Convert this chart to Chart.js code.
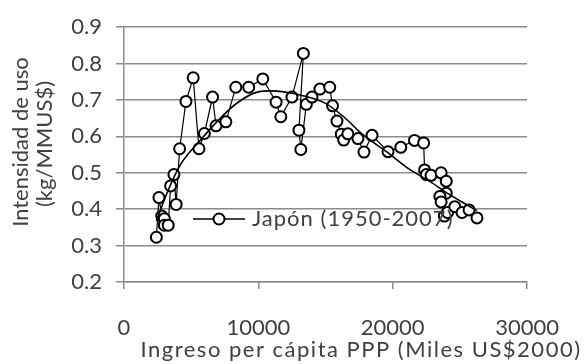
<!DOCTYPE html>
<html>
<head>
<meta charset="utf-8">
<script src="https://cdn.jsdelivr.net/npm/chart.js@4/dist/chart.umd.min.js"></script>
<style>
  html, body { margin: 0; padding: 0; background: #ffffff; }
  #wrap { width: 585px; height: 364px; }
</style>
</head>
<body>
<div id="wrap"><canvas id="c" width="585" height="364"></canvas></div>
<script>
// Japan: income per capita (PPP, US$2000) vs. intensity of use (kg/MMUS$), 1950-2007
const incomeJapan = [
  2410, 2600, 2810, 3005, 3005, 3290, 3470, 3715, 3880, 4140,
  4610, 5150, 5580, 5980, 6590, 6850, 7580, 8320, 9280, 10330,
  11320, 11670, 12500, 13350, 13020, 13160, 13570, 13990, 14580, 15310,
  15520, 15850, 16170, 16350, 16660, 17410, 17860, 18460, 19650, 20600,
  21620, 22300, 22370, 22500, 22850, 23600, 23980, 23980, 23510, 23600,
  23840, 24080, 24620, 25160, 25680, 26270
];
const intensityJapan = [
  0.323, 0.432, 0.381, 0.374, 0.356, 0.356, 0.464, 0.495, 0.413, 0.566,
  0.696, 0.761, 0.566, 0.608, 0.708, 0.629, 0.640, 0.735, 0.735, 0.758,
  0.694, 0.654, 0.708, 0.828, 0.617, 0.564, 0.688, 0.708, 0.730, 0.735,
  0.684, 0.642, 0.606, 0.590, 0.607, 0.594, 0.557, 0.603, 0.558, 0.570,
  0.589, 0.582, 0.508, 0.495, 0.493, 0.500, 0.477, 0.444, 0.435, 0.420,
  0.381, 0.391, 0.407, 0.391, 0.398, 0.376
];

// Fitted trend curve, sampled along its length
const trendIncome = [
  2410, 3240, 4180, 5600, 7140, 8320, 9850, 11040, 12690, 14930,
  16350, 17650, 19610, 21310, 22730, 24150, 25560, 26270
];
const trendIntensity = [
  0.368, 0.448, 0.521, 0.586, 0.649, 0.689, 0.721, 0.725, 0.717, 0.692,
  0.654, 0.609, 0.556, 0.508, 0.477, 0.442, 0.411, 0.396
];

const xTicks = [0, 10000, 20000, 30000];
const yTicks = [0.2, 0.3, 0.4, 0.5, 0.6, 0.7, 0.8, 0.9];

const seriesLabel = 'Japón (1950-2007)';
const xTitle = 'Ingreso per cápita PPP (Miles US$2000)';
const yTitle = ['Intensidad de uso', '(kg/MMUS$)'];

const FONT = 'Lato, "Liberation Sans", sans-serif';
const FONT_SIZE = 22;
const TEXT = '#404040';
const GRID = '#8c8c8c';

const pts = incomeJapan.map((x, i) => ({ x, y: intensityJapan[i] }));
const trend = trendIncome.map((x, i) => ({ x, y: trendIntensity[i] }));

// Axis titles and the in-plot legend
const annotations = {
  id: 'annotations',
  afterDraw(chart) {
    const ctx = chart.ctx;
    ctx.save();
    ctx.fillStyle = TEXT;
    ctx.font = FONT_SIZE + 'px ' + FONT;
    ctx.textAlign = 'center';
    ctx.textBaseline = 'middle';
    ctx.letterSpacing = '1.5px';
    ctx.fillText(xTitle, 361, 350);
    ctx.letterSpacing = '0px';

    ctx.save();
    ctx.translate(21, 142);
    ctx.rotate(-Math.PI / 2);
    ctx.fillText(yTitle[0], 0, 0);
    ctx.restore();
    ctx.save();
    ctx.translate(45, 144);
    ctx.rotate(-Math.PI / 2);
    ctx.fillText(yTitle[1], 0, 0);
    ctx.restore();

    // legend entry: line with marker, then label
    const ly = 219;
    ctx.strokeStyle = '#000';
    ctx.lineWidth = 1.3;
    ctx.beginPath();
    ctx.moveTo(193, ly);
    ctx.lineTo(245, ly);
    ctx.stroke();
    ctx.beginPath();
    ctx.arc(219, ly, 5.5, 0, Math.PI * 2);
    ctx.fillStyle = '#fff';
    ctx.fill();
    ctx.lineWidth = 2;
    ctx.stroke();
    ctx.fillStyle = TEXT;
    ctx.textAlign = 'left';
    ctx.letterSpacing = '1px';
    ctx.fillText(seriesLabel, 252, ly);
    ctx.letterSpacing = '0px';
    ctx.restore();
  }
};

new Chart(document.getElementById('c'), {
  type: 'scatter',
  data: {
    datasets: [
      {
        label: 'Tendencia',
        type: 'line',
        data: trend,
        borderColor: '#000',
        borderWidth: 1.6,
        pointRadius: 0,
        fill: false,
        cubicInterpolationMode: 'monotone',
        order: 0
      },
      {
        label: seriesLabel,
        data: pts,
        showLine: true,
        borderColor: '#000',
        borderWidth: 1.2,
        pointRadius: 5.5,
        pointBorderWidth: 2,
        pointBackgroundColor: '#fff',
        pointBorderColor: '#000',
        order: 1
      }
    ]
  },
  options: {
    responsive: false,
    animation: false,
    devicePixelRatio: 1,
    layout: { padding: { top: 17, right: 37, left: 0, bottom: 0 } },
    plugins: {
      legend: { display: false },
      tooltip: { enabled: false }
    },
    scales: {
      x: {
        type: 'linear',
        min: 0, max: 30000,
        afterBuildTicks: s => { s.ticks = xTicks.map(v => ({ value: v })); },
        afterFit: s => { s.height = 364 - 282; },
        ticks: {
          color: TEXT,
          font: { family: FONT, size: FONT_SIZE },
          padding: 26,
          maxRotation: 0,
          callback: v => String(v)
        },
        grid: { drawOnChartArea: false, drawTicks: true, tickLength: 7, color: GRID, lineWidth: 1.5 },
        border: { color: GRID, width: 1.5 }
      },
      y: {
        type: 'linear',
        min: 0.2, max: 0.9,
        afterBuildTicks: s => { s.ticks = yTicks.map(v => ({ value: v })); },
        afterFit: s => { s.width = 124; },
        ticks: {
          color: TEXT,
          font: { family: FONT, size: FONT_SIZE },
          padding: 14,
          callback: v => Number(v).toFixed(1)
        },
        grid: { color: GRID, lineWidth: 1.5, tickLength: 8 },
        border: { color: GRID, width: 1.5 }
      }
    }
  },
  plugins: [annotations]
});
</script>
</body>
</html>
